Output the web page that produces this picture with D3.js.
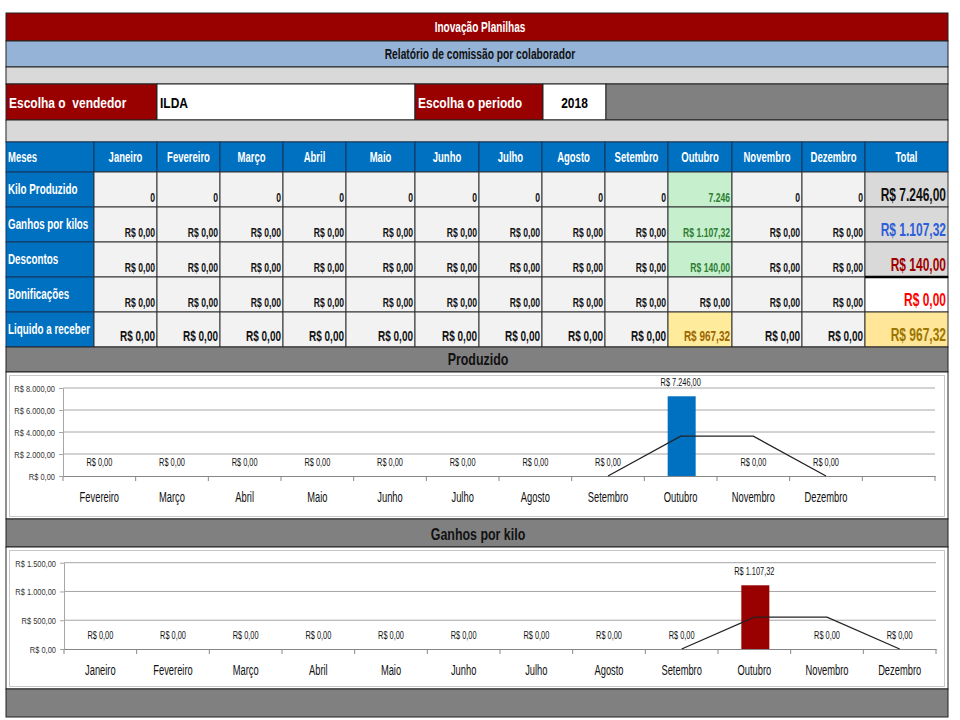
<!DOCTYPE html>
<html>
<head>
<meta charset="utf-8">
<script src="https://cdn.jsdelivr.net/npm/d3@7"></script>
<style>
  body { margin: 0; background: #fff; }
  text { white-space: pre; }
</style>
</head>
<body>
<svg id="chart" width="960" height="720"></svg>
<script>
// --- data read from the sheet ---
const months = ["Janeiro", "Fevereiro", "Março", "Abril", "Maio", "Junho",
  "Julho", "Agosto", "Setembro", "Outubro", "Novembro", "Dezembro"];
const rowLabels = ["Kilo Produzido", "Ganhos por kilos", "Descontos", "Bonificações", "Liquido a receber"];
const kiloProduzido = [0, 0, 0, 0, 0, 0, 0, 0, 0, 7246, 0, 0];
const ganhosPorKilos = [0, 0, 0, 0, 0, 0, 0, 0, 0, 1107.32, 0, 0];
const descontos = [0, 0, 0, 0, 0, 0, 0, 0, 0, 140, 0, 0];
const bonificacoes = [0, 0, 0, 0, 0, 0, 0, 0, 0, 0, 0, 0];
const liquidoReceber = [0, 0, 0, 0, 0, 0, 0, 0, 0, 967.32, 0, 0];
const totals = [7246, 1107.32, 140, 0, 967.32];

// chart "Produzido" starts at Fevereiro and has one empty slot at the end
const produzidoCats = ["Fevereiro", "Março", "Abril", "Maio", "Junho", "Julho",
  "Agosto", "Setembro", "Outubro", "Novembro", "Dezembro", ""];
const produzidoValues = [0, 0, 0, 0, 0, 0, 0, 0, 7246, 0, 0, null];
const produzidoTrend = [null, null, null, null, null, null, null, 0, 3623, 3623, 0, null];
const produzidoTicks = [0, 2000, 4000, 6000, 8000];

const ganhosCats = months;
const ganhosValues = [0, 0, 0, 0, 0, 0, 0, 0, 0, 1107.32, 0, 0];
const ganhosTrend = [null, null, null, null, null, null, null, null, 0, 553.66, 553.66, 0];
const ganhosTicks = [0, 500, 1000, 1500];

const vendedor = "ILDA";
const periodo = "2018";

// --- layout ---
const svg = d3.select("#chart");
const L = 6, R = 948;
const SANS = "'Liberation Sans', Arial, sans-serif";
const STRETCH = 1.2; // the screenshot is a bit taller than wide
const NARROW_X = 0.82; // fake a narrow face by squeezing Liberation Sans
const colEdges = [6, 94, 157, 220, 283, 346, 415, 479, 542, 605, 668, 732, 802, 865, 948];
const rowTops = [172, 207, 242, 277, 312, 347];

const br = d3.formatLocale({ decimal: ",", thousands: ".", grouping: [3], currency: ["R$ ", ""] });
const money = br.format("$,.2f");
const kilo = br.format(",d");

function addText(parent, x, y, str, o = {}) {
  const sx = o.sx ?? NARROW_X;
  return parent.append("text")
    .attr("transform", `translate(${x},${y}) scale(${sx},${STRETCH})`)
    .attr("text-anchor", o.anchor || "start")
    .attr("font-family", SANS)
    .attr("font-weight", o.weight || "bold")
    .attr("font-size", o.size || 12)
    .attr("fill", o.color || "#000")
    .text(str);
}

function band(y0, y1, fill) {
  svg.append("rect")
    .attr("x", L).attr("y", y0).attr("width", R - L).attr("height", y1 - y0)
    .attr("fill", fill).attr("stroke", "#222").attr("stroke-width", 1);
}

// top bars
band(13, 41, "#990000");
addText(svg, 480, 32, "Inovação Planilhas", { anchor: "middle", color: "#fff", size: 12.3 });
band(41, 67, "#95b3d7");
addText(svg, 480, 59, "Relatório de comissão por colaborador", { anchor: "middle", color: "#111", size: 12.5 });
band(67, 84, "#d9d9d9");

// selector row
const selBoxes = [
  { x0: 6, x1: 157, fill: "#990000", text: "Escolha o  vendedor", color: "#fff" },
  { x0: 157, x1: 415, fill: "#fff", text: vendedor, color: "#000" },
  { x0: 415, x1: 543, fill: "#990000", text: "Escolha o periodo", color: "#fff" },
  { x0: 543, x1: 606, fill: "#fff", text: periodo, color: "#000", center: true },
  { x0: 606, x1: 948, fill: "#808080", text: "", color: "#000" }
];
selBoxes.forEach(b => {
  svg.append("rect")
    .attr("x", b.x0).attr("y", 84).attr("width", b.x1 - b.x0).attr("height", 36)
    .attr("fill", b.fill).attr("stroke", "#222");
  if (b.text) {
    addText(svg, b.center ? (b.x0 + b.x1) / 2 : b.x0 + 3, 108, b.text,
      { anchor: b.center ? "middle" : "start", color: b.color, size: 12, sx: 1 });
  }
});
band(120, 142, "#d9d9d9");

// header row
const headers = ["Meses"].concat(months, ["Total"]);
headers.forEach((h, i) => {
  const x0 = colEdges[i], x1 = colEdges[i + 1];
  svg.append("rect")
    .attr("x", x0).attr("y", 142).attr("width", x1 - x0).attr("height", 30)
    .attr("fill", "#0070c0").attr("stroke", "#17375e");
  addText(svg, i === 0 ? x0 + 2 : (x0 + x1) / 2, 162, h,
    { anchor: i === 0 ? "start" : "middle", color: "#fff", size: 11.6 });
});

// body rows
const rows = [kiloProduzido, ganhosPorKilos, descontos, bonificacoes, liquidoReceber];
const fmts = [kilo, money, money, money, money];
const totalFill = ["#d9d9d9", "#d9d9d9", "#d9d9d9", "#ffffff", "#ffe699"];
const totalColor = ["#111", "#2f5fd8", "#a00000", "#ff0000", "#9c7400"];
const highlight = months.indexOf("Outubro");

rows.forEach((vals, r) => {
  const y0 = rowTops[r], y1 = rowTops[r + 1];
  svg.append("rect")
    .attr("x", colEdges[0]).attr("y", y0).attr("width", colEdges[1] - colEdges[0]).attr("height", y1 - y0)
    .attr("fill", "#0070c0").attr("stroke", "#17375e");
  addText(svg, colEdges[0] + 2, y0 + 22, rowLabels[r], { color: "#fff", size: 12 });

  vals.forEach((v, c) => {
    const x0 = colEdges[c + 1], x1 = colEdges[c + 2];
    let fill = "#f2f2f2", color = "#111";
    if (c === highlight && v !== 0) {
      if (r === 4) { fill = "#ffeb9c"; color = "#9c6500"; }
      else { fill = "#c6efce"; color = "#2e7d32"; }
    }
    svg.append("rect")
      .attr("x", x0).attr("y", y0).attr("width", x1 - x0).attr("height", y1 - y0)
      .attr("fill", fill).attr("stroke", "#333");
    addText(svg, x1 - 2, r === 4 ? y0 + 29 : y0 + 30, fmts[r](v),
      { anchor: "end", color, size: r === 4 ? 12.2 : 10.5 });
  });

  const tx0 = colEdges[13], tx1 = colEdges[14];
  svg.append("rect")
    .attr("x", tx0).attr("y", y0).attr("width", tx1 - tx0).attr("height", y1 - y0)
    .attr("fill", totalFill[r]).attr("stroke", "#333");
  addText(svg, tx1 - 2, y0 + 29, money(totals[r]),
    { anchor: "end", color: totalColor[r], size: 15, sx: 0.8 });
});
svg.append("line")
  .attr("x1", colEdges[13]).attr("x2", colEdges[14])
  .attr("y1", rowTops[3]).attr("y2", rowTops[3])
  .attr("stroke", "#000").attr("stroke-width", 2.5);

// --- charts ---
function drawChart(cfg) {
  band(cfg.barTop, cfg.barBottom, "#808080");
  addText(svg, 478, cfg.barBottom - 7, cfg.title, { anchor: "middle", color: "#111", size: 13.5, sx: 0.92 });

  svg.append("rect")
    .attr("x", L).attr("y", cfg.barBottom).attr("width", R - L).attr("height", cfg.areaBottom - cfg.barBottom)
    .attr("fill", "#fff").attr("stroke", "#222");
  svg.append("rect")
    .attr("x", 9.5).attr("y", cfg.barBottom + 3.5).attr("width", 935).attr("height", cfg.areaBottom - cfg.barBottom - 6)
    .attr("fill", "none").attr("stroke", "#c8c8c8");

  const x = d3.scaleBand().domain(cfg.cats).range(cfg.xRange).padding(0);
  const y = d3.scaleLinear().domain([0, d3.max(cfg.ticks)]).range(cfg.yRange);
  const g = svg.append("g");

  // gridlines
  g.selectAll(".grid").data(cfg.ticks.slice(1)).join("line")
    .attr("x1", cfg.xRange[0]).attr("x2", cfg.xRange[1])
    .attr("y1", d => y(d)).attr("y2", d => y(d))
    .attr("stroke", "#a6a6a6").attr("stroke-width", 1);

  // y axis
  const ya = g.append("g")
    .attr("transform", `translate(${cfg.xRange[0]},0)`)
    .call(d3.axisLeft(y).tickValues(cfg.ticks).tickFormat(money).tickSize(4).tickSizeOuter(0).tickPadding(3));
  ya.select(".domain").attr("stroke", "#a6a6a6");
  ya.selectAll(".tick line").attr("stroke", "#a6a6a6");
  ya.selectAll(".tick text")
    .attr("font-family", SANS).attr("font-size", 8.3).attr("fill", "#333")
    .attr("x", 0).attr("dy", null)
    .attr("transform", `translate(-8,3.5) scale(0.9,${STRETCH})`);

  // x axis
  const xa = g.append("g")
    .attr("transform", `translate(0,${cfg.yRange[0]})`)
    .call(d3.axisBottom(x).tickSize(0).tickSizeOuter(0));
  xa.select(".domain").attr("stroke", "#868686");
  xa.selectAll(".tick text")
    .attr("font-family", SANS).attr("font-size", 12.3).attr("fill", "#111")
    .attr("y", 0).attr("dy", null)
    .attr("transform", `translate(0,26) scale(0.76,${STRETCH})`);
  g.selectAll(".xtick").data(cfg.cats.concat(["__end"])).join("line")
    .attr("x1", (d, i) => cfg.xRange[0] + i * x.step())
    .attr("x2", (d, i) => cfg.xRange[0] + i * x.step())
    .attr("y1", cfg.yRange[0]).attr("y2", cfg.yRange[0] + 5)
    .attr("stroke", "#868686");

  // bars
  const bw = 28;
  const pts = cfg.cats.map((c, i) => ({ c, v: cfg.values[i], t: cfg.trend[i] }));
  g.selectAll(".bar").data(pts.filter(d => d.v > 0)).join("rect")
    .attr("x", d => x(d.c) + x.bandwidth() / 2 - bw / 2 + 1)
    .attr("width", bw)
    .attr("y", d => y(d.v))
    .attr("height", d => y(0) - y(d.v))
    .attr("fill", cfg.color);

  // data labels
  pts.filter(d => d.v !== null).forEach(d => {
    addText(g, x(d.c) + x.bandwidth() / 2, y(d.v) - 10, money(d.v),
      { anchor: "middle", size: 9, weight: "normal", color: "#111", sx: 0.82 });
  });

  // trendline (2 period moving average)
  const line = d3.line()
    .defined(d => d.t !== null)
    .x(d => x(d.c) + x.bandwidth() / 2)
    .y(d => y(d.t));
  g.append("path").datum(pts).attr("d", line)
    .attr("fill", "none").attr("stroke", "#222").attr("stroke-width", 1.3);
}

drawChart({
  title: "Produzido", barTop: 347, barBottom: 372, areaBottom: 519,
  cats: produzidoCats, values: produzidoValues, trend: produzidoTrend, ticks: produzidoTicks,
  xRange: [63, 935], yRange: [476, 388], color: "#0070c0"
});
drawChart({
  title: "Ganhos por kilo", barTop: 519, barBottom: 547, areaBottom: 689,
  cats: ganhosCats, values: ganhosValues, trend: ganhosTrend, ticks: ganhosTicks,
  xRange: [64, 936], yRange: [649, 562.7], color: "#990000"
});
band(689, 717, "#808080");
</script>
</body>
</html>
